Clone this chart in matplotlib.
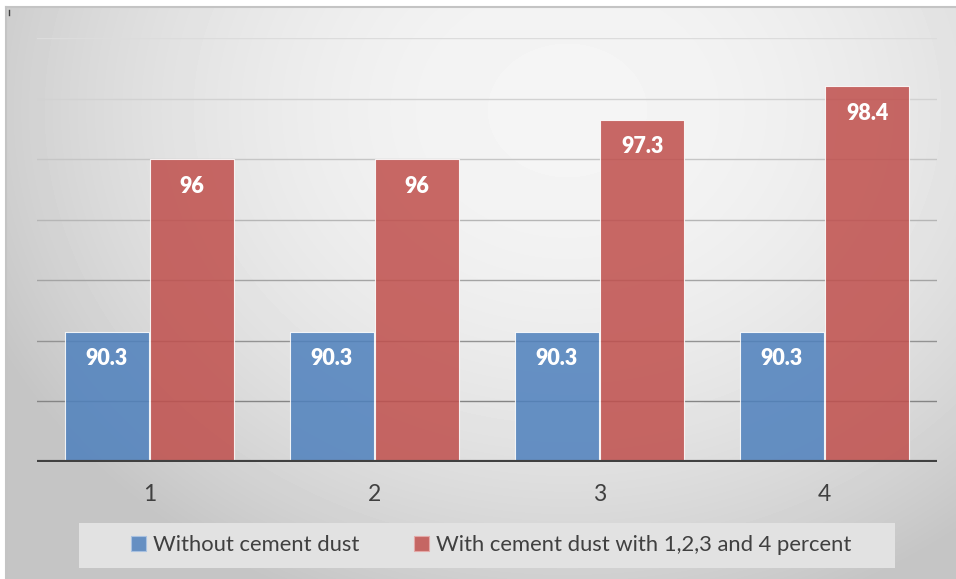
import numpy as np
import matplotlib
matplotlib.use("Agg")
import matplotlib.pyplot as plt
from matplotlib.patches import Rectangle, Patch
from matplotlib.lines import Line2D

plt.rcParams['font.family'] = ['Lato', 'DejaVu Sans']

# data
groups = [1, 2, 3, 4]
without_dust = [90.3, 90.3, 90.3, 90.3]
with_dust = [96, 96, 97.3, 98.4]
series_names = ["Without cement dust", "With cement dust with 1,2,3 and 4 percent"]

W, H = 956, 579
fig = plt.figure(figsize=(W / 100, H / 100), dpi=100)
fig.patch.set_facecolor('white')

# radial grey background behind everything
bg = fig.add_axes([7 / W, 0, 1 - 7 / W, 1 - 8 / H], zorder=-5)
yy, xx = np.mgrid[0:571, 0:949]
r2 = ((xx - 560) / 620.0) ** 2 + ((yy + 8 - 110) / 520.0) ** 2
shade = np.clip(0.96 - 0.18 * r2, 0.77, 1.0)
bg.imshow(shade, cmap='gray', vmin=0, vmax=1, aspect='auto', interpolation='bilinear')
bg.axis('off')

# thin border along top and left
fig.add_artist(Line2D([6 / W, 1], [1 - 7 / H, 1 - 7 / H], color='#c4c4c4', lw=1.5))
fig.add_artist(Line2D([6 / W, 6 / W], [0, 1 - 7 / H], color='#c4c4c4', lw=1.5))
fig.add_artist(Line2D([8.5 / W, 8.5 / W], [1 - 10 / H, 1 - 15 / H], color='#404040', lw=1))

ax = fig.add_axes([37 / W, 1 - 462 / H, 900 / W, 424 / H])
ax.set_facecolor('none')

# gridlines, darker towards the bottom
grid_vals = [88, 90, 92, 94, 96, 98, 100]
grid_cols = ['#858585', '#939393', '#a4a4a4', '#b6b6b6', '#c6c6c6', '#d2d2d2', '#dcdcdc']
for v, c in zip(grid_vals, grid_cols):
    ax.axhline(v, color=c, lw=1.0, zorder=1)

x = np.array(groups)
w = 0.375
off = 0.19
b1 = ax.bar(x - off, np.array(without_dust) - 86, w, bottom=86, color='#4f81bd', alpha=0.86,
            edgecolor=(1, 1, 1, 0.5), linewidth=0.8, zorder=2)
b2 = ax.bar(x + off, np.array(with_dust) - 86, w, bottom=86, color='#c0504d', alpha=0.86,
            edgecolor=(1, 1, 1, 0.5), linewidth=0.8, zorder=2)

for xs, vals in ((x - off, without_dust), (x + off, with_dust)):
    for xi, v in zip(xs, vals):
        ax.annotate(f"{v:g}", (xi, v), xytext=(0, -27), textcoords='offset pixels',
                    ha='center', va='center', color='white', fontsize=15.5, fontweight='heavy',
                    zorder=4)

ax.axhline(86, color='#404040', lw=3.0, zorder=3)

ax.set_xlim(0.5, 4.5)
ax.set_ylim(86, 100)
ax.set_xticks(groups)
ax.set_xticklabels([str(g) for g in groups])
ax.set_yticks([])
ax.tick_params(axis='x', length=0, pad=16, labelsize=16.5, labelcolor='#404040')
for s in ax.spines.values():
    s.set_visible(False)

# legend with its own light box
fig.add_artist(Rectangle((79 / W, 1 - 568 / H), 816 / W, 45 / H, transform=fig.transFigure,
                         facecolor='#e2e2e2', edgecolor='none', zorder=0))
handles = [Patch(facecolor='#658fc2', edgecolor='#a9c1e0', lw=0.8),
           Patch(facecolor='#c56663', edgecolor='#e3a9a8', lw=0.8)]
fig.legend(handles, series_names, loc='center', bbox_to_anchor=(491 / W, 1 - 545 / H),
           ncol=2, frameon=False, fontsize=15.8, labelcolor='#404040',
           handlelength=0.7, handleheight=0.7, handletextpad=0.3, columnspacing=2.5)

fig.savefig('out.png', dpi=100)
